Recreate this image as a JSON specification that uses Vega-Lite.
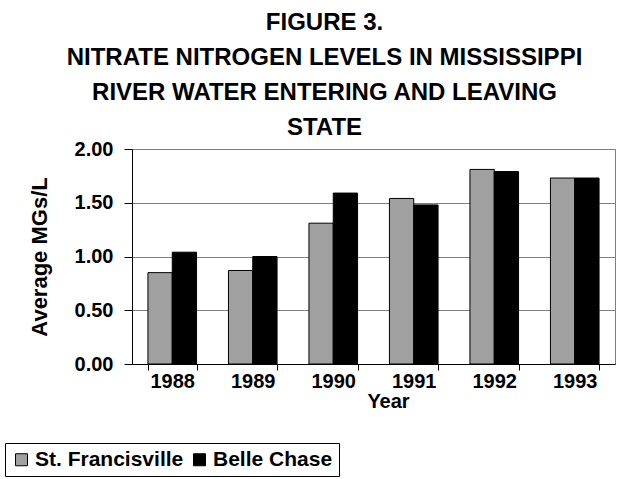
{
  "$schema": "https://vega.github.io/schema/vega-lite/v6.json",
  "autosize": "none",
  "width": 483,
  "height": 215,
  "padding": {"left": 132, "top": 149, "right": 16, "bottom": 115},
  "background": "white",
  "title": {
    "text": ["FIGURE 3.", "NITRATE NITROGEN LEVELS IN MISSISSIPPI", "RIVER WATER ENTERING AND LEAVING", "STATE"],
    "anchor": "middle",
    "dx": -49,
    "offset": -1,
    "font": "Liberation Sans",
    "fontSize": 24,
    "fontWeight": "bold",
    "lineHeight": 35,
    "color": "black"
  },
  "data": {
    "values": [
      {"Year": "1988", "Site": "St. Francisville", "Value": 0.85},
      {"Year": "1988", "Site": "Belle Chase", "Value": 1.04},
      {"Year": "1989", "Site": "St. Francisville", "Value": 0.87},
      {"Year": "1989", "Site": "Belle Chase", "Value": 1.00},
      {"Year": "1990", "Site": "St. Francisville", "Value": 1.31},
      {"Year": "1990", "Site": "Belle Chase", "Value": 1.59},
      {"Year": "1991", "Site": "St. Francisville", "Value": 1.54},
      {"Year": "1991", "Site": "Belle Chase", "Value": 1.48},
      {"Year": "1992", "Site": "St. Francisville", "Value": 1.81},
      {"Year": "1992", "Site": "Belle Chase", "Value": 1.79},
      {"Year": "1993", "Site": "St. Francisville", "Value": 1.73},
      {"Year": "1993", "Site": "Belle Chase", "Value": 1.73}
    ]
  },
  "mark": {"type": "bar", "stroke": "black", "strokeWidth": 1},
  "encoding": {
    "x": {
      "field": "Year",
      "type": "nominal",
      "scale": {"paddingInner": 0.396, "paddingOuter": 0.198},
      "axis": {
        "labelAngle": 0,
        "title": "Year",
        "titleX": 256,
        "tickBand": "extent",
        "tickSize": 6,
        "labelPadding": 1,
        "titlePadding": 0,
        "grid": false
      }
    },
    "xOffset": {
      "field": "Site",
      "type": "nominal",
      "sort": ["St. Francisville", "Belle Chase"],
      "scale": {"paddingInner": 0, "paddingOuter": 0}
    },
    "y": {
      "field": "Value",
      "type": "quantitative",
      "scale": {"domain": [0, 2]},
      "axis": {
        "values": [0, 0.5, 1, 1.5, 2],
        "format": ".2f",
        "title": "Average MGs/L",
        "titleFontSize": 22,
        "tickSize": 8,
        "labelPadding": 11,
        "titlePadding": 23,
        "grid": true,
        "gridColor": "#808080"
      }
    },
    "fill": {
      "field": "Site",
      "type": "nominal",
      "sort": ["St. Francisville", "Belle Chase"],
      "scale": {"domain": ["St. Francisville", "Belle Chase"], "range": ["#a0a0a0", "black"]},
      "legend": {
        "title": null,
        "orient": "none",
        "legendX": -127,
        "legendY": 294,
        "direction": "horizontal",
        "symbolType": "square",
        "symbolSize": 144,
        "symbolStrokeColor": "black",
        "symbolStrokeWidth": 1,
        "labelFontSize": 21,
        "labelFont": "Liberation Sans",
        "labelFontWeight": "bold",
        "labelColor": "black",
        "labelOffset": 3,
        "columnPadding": 5,
        "padding": 6,
        "strokeColor": "black",
        "fillColor": "white",
        "cornerRadius": 0
      }
    }
  },
  "config": {
    "view": {"stroke": "#808080", "strokeWidth": 1},
    "axis": {
      "labelFont": "Liberation Sans",
      "labelFontSize": 20,
      "labelFontWeight": "bold",
      "labelColor": "black",
      "titleFont": "Liberation Sans",
      "titleFontSize": 20,
      "titleFontWeight": "bold",
      "titleColor": "black",
      "domainColor": "black",
      "tickColor": "black",
      "labelFlush": false,
      "labelOverlap": false
    }
  }
}
